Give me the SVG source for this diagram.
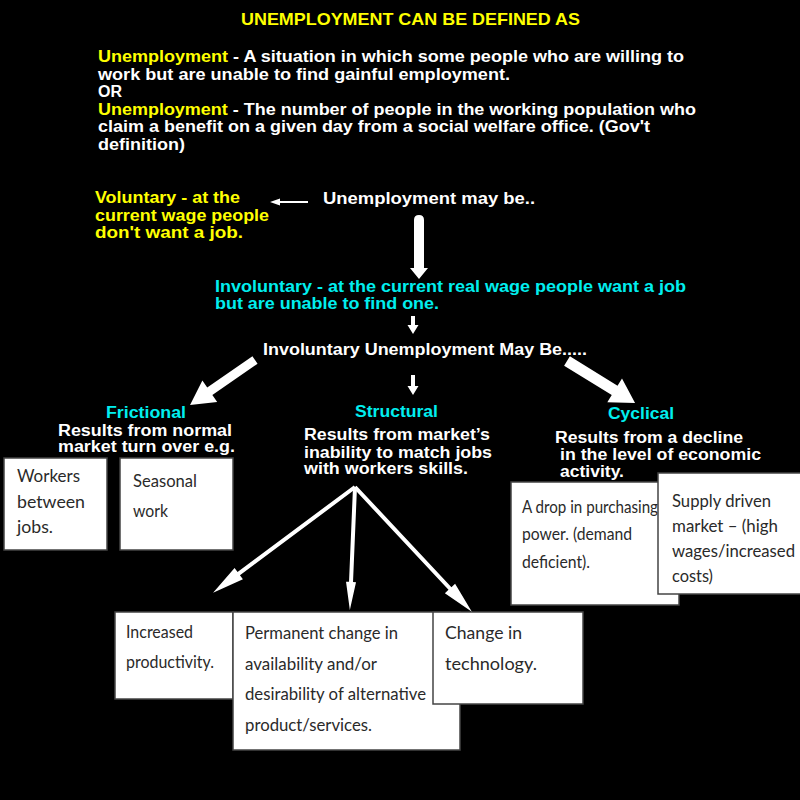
<svg xmlns="http://www.w3.org/2000/svg" width="800" height="800" viewBox="0 0 800 800">
<style>
.b{font-family:"Liberation Sans",Arial,sans-serif;font-weight:bold;font-size:16px;fill:#fff}
.y{fill:#ffff00}
.c{fill:#00eeee}
.box{fill:#fff;stroke:#444;stroke-width:1.5}
.bt{font-family:Lato,"Open Sans",sans-serif;font-size:17px;fill:#2a2a2a}
.arr{fill:#fff}
</style>
<rect width="800" height="800" fill="#000"/>

<g id="header">
<text class="b y" x="241" y="25" textLength="339" lengthAdjust="spacingAndGlyphs" style="font-size:17px">UNEMPLOYMENT CAN BE DEFINED AS</text>
<text class="b" x="98" y="62" textLength="586" lengthAdjust="spacingAndGlyphs"><tspan class="y">Unemployment</tspan> - A situation in which some people who are willing to</text>
<text class="b" x="98" y="79.5" textLength="412" lengthAdjust="spacingAndGlyphs">work but are unable to find gainful employment.</text>
<text class="b" x="98" y="97">OR</text>
<text class="b" x="98" y="114.5" textLength="598" lengthAdjust="spacingAndGlyphs"><tspan class="y">Unemployment</tspan> - The number of people in the working population who</text>
<text class="b" x="98" y="132" textLength="552" lengthAdjust="spacingAndGlyphs">claim a benefit on a given day from a social welfare office. (Gov't</text>
<text class="b" x="98" y="149.5" textLength="87" lengthAdjust="spacingAndGlyphs">definition)</text>
</g>

<g id="voluntary">
<text class="b y" x="95" y="203" textLength="145" lengthAdjust="spacingAndGlyphs">Voluntary - at the</text>
<text class="b y" x="95" y="221" textLength="174" lengthAdjust="spacingAndGlyphs">current wage people</text>
<text class="b y" x="95" y="238" textLength="148" lengthAdjust="spacingAndGlyphs">don't want a job.</text>
</g>

<g id="unemployment-may-be">
<text class="b" x="323" y="204" textLength="212" lengthAdjust="spacingAndGlyphs">Unemployment  may be..</text>
</g>

<g id="involuntary">
<text class="b c" x="215" y="292" textLength="471" lengthAdjust="spacingAndGlyphs">Involuntary - at the current real wage people want a job</text>
<text class="b c" x="215" y="309" textLength="224" lengthAdjust="spacingAndGlyphs">but are unable to find one.</text>
</g>

<g id="involuntary-may-be">
<text class="b" x="263" y="355" textLength="324" lengthAdjust="spacingAndGlyphs">Involuntary Unemployment May Be.....</text>
</g>

<g id="frictional">
<text class="b c" x="106" y="418" textLength="80" lengthAdjust="spacingAndGlyphs">Frictional</text>
<text class="b" x="58" y="436" textLength="174" lengthAdjust="spacingAndGlyphs">Results from normal</text>
<text class="b" x="58" y="452" textLength="177" lengthAdjust="spacingAndGlyphs">market turn over e.g.</text>
</g>

<g id="structural">
<text class="b c" x="355" y="417" textLength="83" lengthAdjust="spacingAndGlyphs">Structural</text>
<text class="b" x="304" y="440" textLength="186" lengthAdjust="spacingAndGlyphs">Results from market’s</text>
<text class="b" x="304" y="458" textLength="188" lengthAdjust="spacingAndGlyphs">inability to match jobs</text>
<text class="b" x="304" y="474" textLength="164" lengthAdjust="spacingAndGlyphs">with workers skills.</text>
</g>

<g id="cyclical">
<text class="b c" x="608" y="419" textLength="66" lengthAdjust="spacingAndGlyphs">Cyclical</text>
<text class="b" x="555" y="443" textLength="188" lengthAdjust="spacingAndGlyphs">Results from a decline</text>
<text class="b" x="560" y="460" textLength="201" lengthAdjust="spacingAndGlyphs">in the level of economic</text>
<text class="b" x="560" y="477" textLength="64" lengthAdjust="spacingAndGlyphs">activity.</text>
</g>

<g id="box-workers">
<rect class="box" x="4" y="458" width="103" height="92"/>
<text class="bt" x="17" y="482" textLength="63" lengthAdjust="spacingAndGlyphs">Workers</text>
<text class="bt" x="17" y="508" textLength="68" lengthAdjust="spacingAndGlyphs">between</text>
<text class="bt" x="17" y="533" textLength="36" lengthAdjust="spacingAndGlyphs">jobs.</text>
</g>

<g id="box-seasonal">
<rect class="box" x="120" y="458" width="113" height="92"/>
<text class="bt" x="133" y="487" textLength="64" lengthAdjust="spacingAndGlyphs">Seasonal</text>
<text class="bt" x="133" y="517" textLength="35" lengthAdjust="spacingAndGlyphs">work</text>
</g>

<g id="box-drop">
<rect class="box" x="511" y="482" width="168" height="123"/>
<text class="bt" x="522" y="513" textLength="136" lengthAdjust="spacingAndGlyphs">A drop in purchasing</text>
<text class="bt" x="522" y="540" textLength="110" lengthAdjust="spacingAndGlyphs">power. (demand</text>
<text class="bt" x="522" y="568" textLength="68" lengthAdjust="spacingAndGlyphs">deficient).</text>
</g>

<g id="box-supply">
<rect class="box" x="658" y="473" width="145" height="121"/>
<text class="bt" x="672" y="507" textLength="99" lengthAdjust="spacingAndGlyphs">Supply driven</text>
<text class="bt" x="672" y="532" textLength="106" lengthAdjust="spacingAndGlyphs">market – (high</text>
<text class="bt" x="672" y="557" textLength="123" lengthAdjust="spacingAndGlyphs">wages/increased</text>
<text class="bt" x="672" y="582" textLength="41" lengthAdjust="spacingAndGlyphs">costs)</text>
</g>

<g id="box-productivity">
<rect class="box" x="115" y="612" width="118" height="87"/>
<text class="bt" x="126" y="638" textLength="67" lengthAdjust="spacingAndGlyphs">Increased</text>
<text class="bt" x="126" y="668" textLength="88" lengthAdjust="spacingAndGlyphs">productivity.</text>
</g>

<g id="box-permanent">
<rect class="box" x="233" y="612" width="227" height="138"/>
<text class="bt" x="245" y="639" textLength="153" lengthAdjust="spacingAndGlyphs">Permanent change in</text>
<text class="bt" x="245" y="670" textLength="132" lengthAdjust="spacingAndGlyphs">availability and/or</text>
<text class="bt" x="245" y="700" textLength="181" lengthAdjust="spacingAndGlyphs">desirability of alternative</text>
<text class="bt" x="245" y="731" textLength="127" lengthAdjust="spacingAndGlyphs">product/services.</text>
</g>

<g id="box-technology">
<rect class="box" x="433" y="612" width="150" height="92"/>
<text class="bt" x="445" y="639" textLength="77" lengthAdjust="spacingAndGlyphs">Change in</text>
<text class="bt" x="445" y="670" textLength="92" lengthAdjust="spacingAndGlyphs">technology.</text>
</g>

<g id="connectors">
<polygon class="arr" transform="translate(308,202) rotate(180)" points="0,-1 28,-1 28,-3.5 38,0 28,3.5 28,1 0,1"/>
<path class="arr" d="M414,220 Q414,215 419,215 Q424,215 424,220 L424,268 L428,268 L419,279 L410,268 L414,268 Z"/>
<polygon class="arr" transform="translate(413,316) rotate(90)" points="0,-2 9,-2 9,-5.5 18,0 9,5.5 9,2 0,2"/>
<polygon class="arr" transform="translate(255,360) rotate(145.3)" points="0,-4.5 55,-4.5 55,-13 79,0 55,13 55,4.5 0,4.5"/>
<polygon class="arr" transform="translate(413,375) rotate(90)" points="0,-2 11,-2 11,-5.5 20,0 11,5.5 11,2 0,2"/>
<polygon class="arr" transform="translate(567,361) rotate(31.7)" points="0,-5.5 56,-5.5 56,-14 80,0 56,14 56,5.5 0,5.5"/>
<polygon class="arr" transform="translate(355,487) rotate(143.3)" points="0,-2 145,-2 145,-7 177,0 145,7 145,2 0,2"/>
<polygon class="arr" transform="translate(355,487) rotate(92.4)" points="0,-2 95,-2 95,-5 123,0 95,5 95,2 0,2"/>
<polygon class="arr" transform="translate(355,487) rotate(46.9)" points="0,-2 139,-2 139,-7 171,0 139,7 139,2 0,2"/>
</g>
</svg>
